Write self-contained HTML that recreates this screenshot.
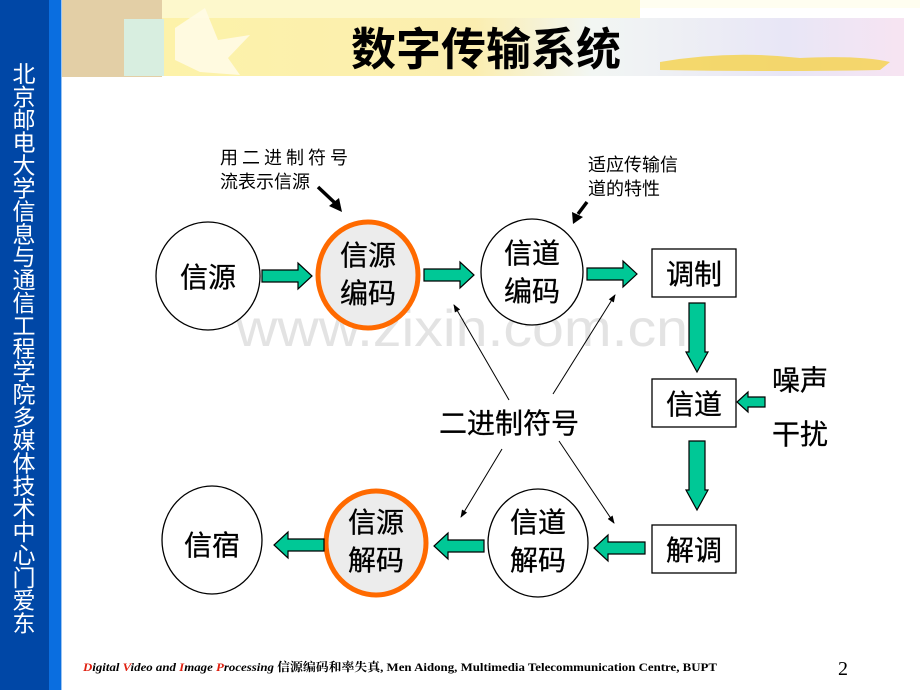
<!DOCTYPE html>
<html><head><meta charset="utf-8"><style>
html,body{margin:0;padding:0;background:#fff;}
body{width:920px;height:690px;overflow:hidden;position:relative;font-family:"Liberation Sans","Noto Sans CJK SC",sans-serif;}
</style></head><body>
<svg width="920" height="690" viewBox="0 0 920 690" xmlns="http://www.w3.org/2000/svg" style="position:absolute;left:0;top:0">
<defs>
<linearGradient id="hb" x1="0" x2="1" y1="0" y2="0">
<stop offset="0" stop-color="#fdf3a8"/><stop offset="0.45" stop-color="#fbeeb0"/><stop offset="0.6" stop-color="#f2f6f3"/><stop offset="0.85" stop-color="#e8e6f6"/><stop offset="1" stop-color="#f7e4f2"/>
</linearGradient>
<marker id="ah" markerWidth="8" markerHeight="8" refX="7" refY="4" orient="auto" markerUnits="userSpaceOnUse"><path d="M0,1 L8,4 L0,7 z" fill="#000"/></marker>
</defs>
<rect x="0" y="0" width="49" height="690" fill="#0047a6"/>
<rect x="49" y="0" width="12" height="690" fill="#0a6ee0"/>
<rect x="61" y="0" width="1" height="690" fill="#9cc4f0"/>
<text font-family="Liberation Sans, Noto Sans CJK SC, sans-serif" font-size="23" fill="#fff" text-anchor="middle">
<tspan x="24" y="82">北</tspan><tspan x="24" dy="22.9">京</tspan><tspan x="24" dy="22.9">邮</tspan><tspan x="24" dy="22.9">电</tspan><tspan x="24" dy="22.9">大</tspan><tspan x="24" dy="22.9">学</tspan><tspan x="24" dy="22.9">信</tspan><tspan x="24" dy="22.9">息</tspan><tspan x="24" dy="22.9">与</tspan><tspan x="24" dy="22.9">通</tspan><tspan x="24" dy="22.9">信</tspan><tspan x="24" dy="22.9">工</tspan><tspan x="24" dy="22.9">程</tspan><tspan x="24" dy="22.9">学</tspan><tspan x="24" dy="22.9">院</tspan><tspan x="24" dy="22.9">多</tspan><tspan x="24" dy="22.9">媒</tspan><tspan x="24" dy="22.9">体</tspan><tspan x="24" dy="22.9">技</tspan><tspan x="24" dy="22.9">术</tspan><tspan x="24" dy="22.9">中</tspan><tspan x="24" dy="22.9">心</tspan><tspan x="24" dy="22.9">门</tspan><tspan x="24" dy="22.9">爱</tspan><tspan x="24" dy="22.9">东</tspan>
</text>
<rect x="62" y="0" width="858" height="8" fill="#fffef0"/>
<rect x="160" y="0" width="480" height="18" fill="#fdf8cc"/>
<rect x="124" y="18" width="780" height="58" fill="url(#hb)"/>
<rect x="62" y="0" width="100" height="77" fill="#e3cfa6"/>
<rect x="124" y="19" width="40" height="57" fill="#d8eee0"/>
<path d="M175,28 L205,8 L218,40 L250,35 L228,58 L240,75 L200,72 L175,60 Z" fill="#fffbe6" opacity="0.9"/>
<path d="M660,62 Q730,50 800,58 Q860,55 890,62 L880,70 Q780,72 660,70 Z" fill="#f5d24a" opacity="0.8"/>
<text x="486" y="65" font-family="Liberation Sans, Noto Sans CJK SC, sans-serif" font-size="45" font-weight="bold" fill="#000" text-anchor="middle">数字传输系统</text>
<text x="236" y="346" font-family="Liberation Sans, sans-serif" font-size="52" fill="#e3e3e3" textLength="452" lengthAdjust="spacingAndGlyphs">www.zixin.com.cn</text>
<g stroke="#000" stroke-width="1.3" fill="#fff">
<ellipse cx="208" cy="276" rx="52" ry="54"/>
<ellipse cx="532" cy="272" rx="51" ry="53"/>
<ellipse cx="212" cy="540" rx="50" ry="54"/>
<ellipse cx="538" cy="543" rx="50" ry="54"/>
</g>
<g stroke="#ff6a00" stroke-width="5" fill="#ececec">
<ellipse cx="368" cy="275" rx="50" ry="53"/>
<ellipse cx="376" cy="543" rx="50" ry="52"/>
</g>
<g stroke="#000" stroke-width="1.3" fill="#fff">
<rect x="652" y="249" width="84" height="48"/>
<rect x="652" y="379" width="84" height="48"/>
<rect x="652" y="525" width="84" height="48"/>
</g>
<g font-family="Liberation Sans, Noto Sans CJK SC, sans-serif" font-size="28" fill="#000" text-anchor="middle" stroke="#000" stroke-width="0.3">
<text x="208" y="287">信源</text>
<text x="368" y="265">信源</text><text x="368" y="303">编码</text>
<text x="532" y="263">信道</text><text x="532" y="301">编码</text>
<text x="694" y="284">调制</text>
<text x="694" y="414">信道</text>
<text x="694" y="560">解调</text>
<text x="212" y="555">信宿</text>
<text x="376" y="532">信源</text><text x="376" y="570">解码</text>
<text x="538" y="532">信道</text><text x="538" y="570">解码</text>
<text x="800" y="390">噪声</text>
<text x="800" y="444">干扰</text>
<text x="509" y="433">二进制符号</text>
</g>
<g font-family="Liberation Sans, Noto Sans CJK SC, sans-serif" font-size="18" fill="#000">
<text x="220" y="164" letter-spacing="4">用二进制符号</text>
<text x="220" y="188">流表示信源</text>
<text x="588" y="171">适应传输信</text>
<text x="588" y="195">道的特性</text>
</g>
<line x1="318" y1="187" x2="335" y2="203" stroke="#000" stroke-width="3.5"/>
<path d="M329,206 L342,212 L339,198 Z" fill="#000"/>
<line x1="587" y1="202" x2="578" y2="214" stroke="#000" stroke-width="3.5"/>
<path d="M572,212 L573,224 L583,217 Z" fill="#000"/>
<g stroke="#000" stroke-width="1" marker-end="url(#ah)">
<line x1="509" y1="400" x2="454" y2="305"/>
<line x1="553" y1="394" x2="615" y2="295"/>
<line x1="502" y1="449" x2="461" y2="517"/>
<line x1="559" y1="441" x2="614" y2="523"/>
</g>
<g fill="#00c896" stroke="#000" stroke-width="1.2">
<path d="M262,270 H298 V263 L312,276 L298,289 V282 H262 Z"/>
<path d="M424,269 H460 V262 L474,275 L460,288 V281 H424 Z"/>
<path d="M587,268 H623 V261 L637,274 L623,287 V280 H587 Z"/>
<path d="M645,542 H608 V535 L594,548 L608,561 V554 H645 Z"/>
<path d="M484,540 H448 V533 L434,546 L448,559 V552 H484 Z"/>
<path d="M324,539 H288 V532 L274,545 L288,558 V551 H324 Z"/>
<path d="M689,303 H705 V352 H708 L697,372 L686,352 H689 Z"/>
<path d="M689,441 H705 V490 H708 L697,510 L686,490 H689 Z"/>
<path d="M765,397 H748 V392 L737,402 L748,412 V407 H765 Z"/>
</g>
<text x="83" y="671" font-family="Liberation Serif, Noto Serif CJK SC, serif" font-size="12" font-weight="bold" fill="#000" textLength="634" lengthAdjust="spacingAndGlyphs"><tspan font-style="italic"><tspan fill="#e02010">D</tspan>igital <tspan fill="#e02010">V</tspan>ideo and <tspan fill="#e02010">I</tspan>mage <tspan fill="#e02010">P</tspan>rocessing</tspan>  信源编码和率失真, Men Aidong, Multimedia Telecommunication Centre, BUPT</text>
<text x="838" y="675" font-family="Liberation Serif, serif" font-size="20" fill="#000">2</text>
</svg>
</body></html>
